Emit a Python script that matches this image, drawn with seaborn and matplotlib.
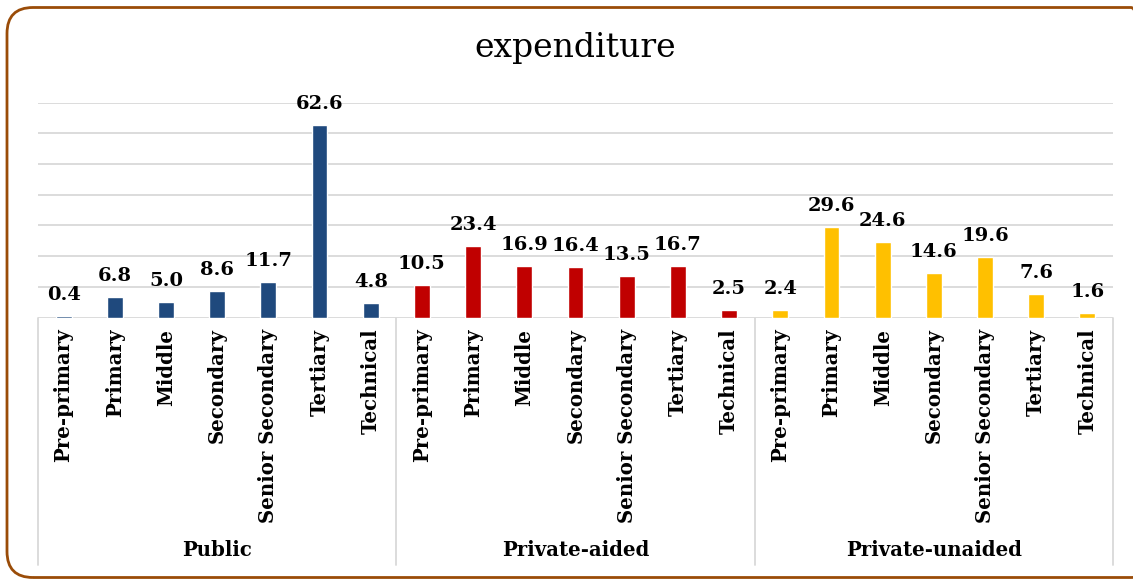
import matplotlib
matplotlib.use("Agg")
import matplotlib.pyplot as plt
import matplotlib.transforms as mtransforms
from matplotlib.patches import FancyBboxPatch
import seaborn as sns
import pandas as pd

# Education expenditure shares by management type and level
sectors = ["Public", "Private-aided", "Private-unaided"]
levels = ["Pre-primary", "Primary", "Middle", "Secondary",
          "Senior Secondary", "Tertiary", "Technical"]
public_values = [0.4, 6.8, 5.0, 8.6, 11.7, 62.6, 4.8]
aided_values = [10.5, 23.4, 16.9, 16.4, 13.5, 16.7, 2.5]
unaided_values = [2.4, 29.6, 24.6, 14.6, 19.6, 7.6, 1.6]
sector_colors = ["#1F497D", "#C00000", "#FFC000"]

rows = []
for sector, vals in zip(sectors, [public_values, aided_values, unaided_values]):
    for level, v in zip(levels, vals):
        rows.append({"sector": sector, "level": level,
                     "key": f"{sector}|{level}", "value": v})
df = pd.DataFrame(rows)

sns.set_style("white")
plt.rcParams["font.family"] = ["DejaVu Serif"]
plt.rcParams["text.color"] = "black"
plt.rcParams["xtick.color"] = "black"

W, H = 1133, 579
fig = plt.figure(figsize=(W / 100, H / 100), dpi=100)

# rounded frame around the chart, in pixel units (runs past the right edge)
frame = FancyBboxPatch((7, 1.5), 1150, 570,
                       boxstyle="round,pad=0,rounding_size=26",
                       transform=mtransforms.IdentityTransform(),
                       facecolor="none", edgecolor="#9A4C08",
                       linewidth=2.0, zorder=5)
fig.patches.append(frame)

ax_left, ax_right = 38, 1113
ax_base, ax_top = 317.5, 102.5
ax = fig.add_axes([ax_left / W, 1 - ax_base / H,
                   (ax_right - ax_left) / W, (ax_base - ax_top) / H])
ax.set_facecolor("none")

sns.barplot(data=df, x="key", y="value", hue="sector", order=df["key"],
            hue_order=sectors, palette=sector_colors, dodge=False,
            saturation=1, width=0.31, legend=False, ax=ax, zorder=3)

ax.set_xlim(-0.5, 20.5)
ax.set_ylim(0, 70)
ax.set_yticks(range(0, 71, 10))
ax.yaxis.grid(True, color="#D9D9D9", linewidth=1.3)
ax.xaxis.grid(False)
ax.set_axisbelow(True)
ax.tick_params(axis="y", length=0, labelleft=False)
for s in ax.spines.values():
    s.set_visible(False)
ax.set_xlabel("")
ax.set_ylabel("")

ax.set_xticks(range(len(df)))
ax.set_xticklabels(df["level"], rotation=90, fontsize=14.2,
                   fontweight="bold", va="top", ha="center")
ax.tick_params(axis="x", length=0, pad=8)

for cont in ax.containers:
    ax.bar_label(cont, fmt="%.1f", padding=8.5, fontsize=14,
                 fontweight="bold", color="black")

trans = mtransforms.blended_transform_factory(ax.transData, ax.transAxes)
bottom = -(565 - ax_base) / (ax_base - ax_top)
for xb in [-0.5, 6.5, 13.5, 20.5]:
    ax.plot([xb, xb], [0, bottom], transform=trans, clip_on=False,
            color="#D9D9D9", linewidth=1.3)

label_y = -(550 - ax_base) / (ax_base - ax_top)
for i, sector in enumerate(sectors):
    ax.text(i * 7 + 3, label_y, sector, transform=trans, ha="center",
            va="center", fontsize=14.2, fontweight="bold")

fig.text(575 / W, 1 - 48 / H, "expenditure", ha="center", va="center",
         fontsize=23.8, color="black")

fig.savefig("out.png", dpi=100)
